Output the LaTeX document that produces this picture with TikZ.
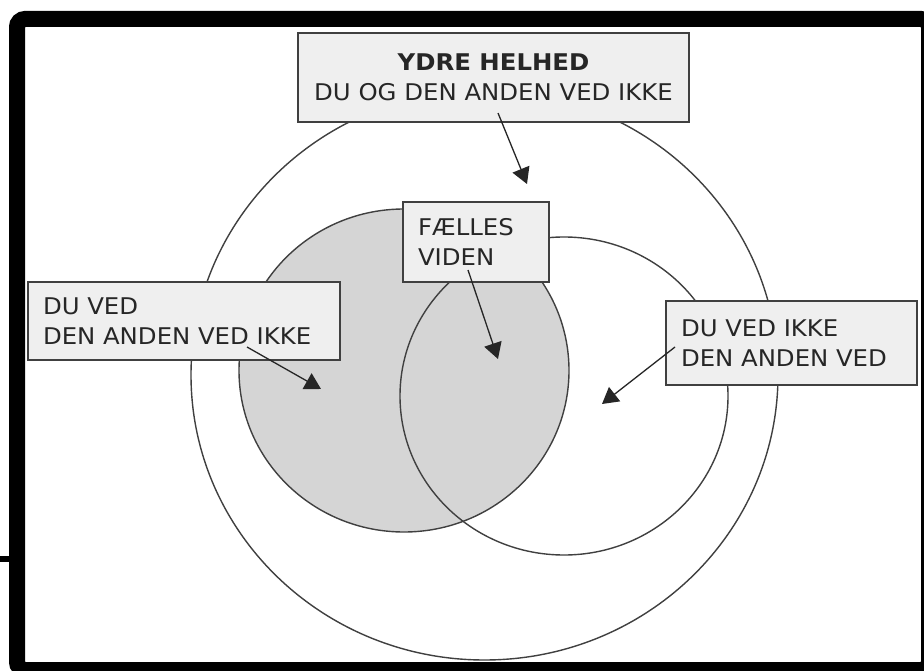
\documentclass[tikz,border=0pt]{standalone}
\usepackage{fontspec}
\setmainfont{DejaVu Sans}[FakeStretch=1.06]
\usetikzlibrary{arrows.meta}
\definecolor{boxfill}{HTML}{EFEFEF}
\definecolor{disc}{HTML}{D5D5D5}
\definecolor{rim}{HTML}{404040}
\begin{document}
\begin{tikzpicture}[x=1pt, y=-1pt,
  ring/.style={draw=rim, line width=1.4pt},
  labelbox/.style={draw=rim, fill=boxfill, line width=1.8pt, inner xsep=15pt, inner ysep=0pt, text=black!85, font=\fontsize{23}{30}\selectfont},
  pointer/.style={draw=black!85, line width=1.3pt, -{Triangle[length=16pt,width=18pt]}}]
\useasboundingbox (0,0) rectangle (924,671);
\clip (0,0) rectangle (924,671);
\fill[white] (0,0) rectangle (924,671);
% frame
\draw[line width=16pt, rounded corners=8pt] (17,19) rectangle (929,670);
\draw[line width=6pt] (0,559) -- (12,559);
% circles
\draw[ring] (484.5,375) ellipse [x radius=293.5pt, y radius=285pt];
\filldraw[ring, fill=disc] (404,370.5) ellipse [x radius=165pt, y radius=161.5pt];
\draw[ring] (564,396) ellipse [x radius=164pt, y radius=159pt];
% boxes
\node[labelbox, align=center, minimum width=391pt, minimum height=89pt] (whole) at (493.5,77.5){\textbf{YDRE HELHED}\\DU OG DEN ANDEN VED IKKE};
\node[labelbox, align=left, text width=282pt, minimum height=78pt] (known) at (184,321){DU VED\\DEN ANDEN VED IKKE};
\node[labelbox, align=left, text width=116pt, minimum height=80pt] (common) at (476,242){FÆLLES\\VIDEN};
\node[labelbox, align=left, text width=221pt, minimum height=84pt] (unknown) at (791.5,343){DU VED IKKE\\DEN ANDEN VED};
% arrows
\coordinate (tail0) at (498,113);
\coordinate (tip0) at (527,184);
\coordinate (tail1) at (247,347);
\coordinate (tip1) at (321,389);
\coordinate (tail2) at (468,270);
\coordinate (tip2) at (498,359);
\coordinate (tail3) at (675,347);
\coordinate (tip3) at (602,404);
\draw[pointer](tail0) -- (tip0);
\draw[pointer](tail1) -- (tip1);
\draw[pointer](tail2) -- (tip2);
\draw[pointer](tail3) -- (tip3);
\end{tikzpicture}
\end{document}
